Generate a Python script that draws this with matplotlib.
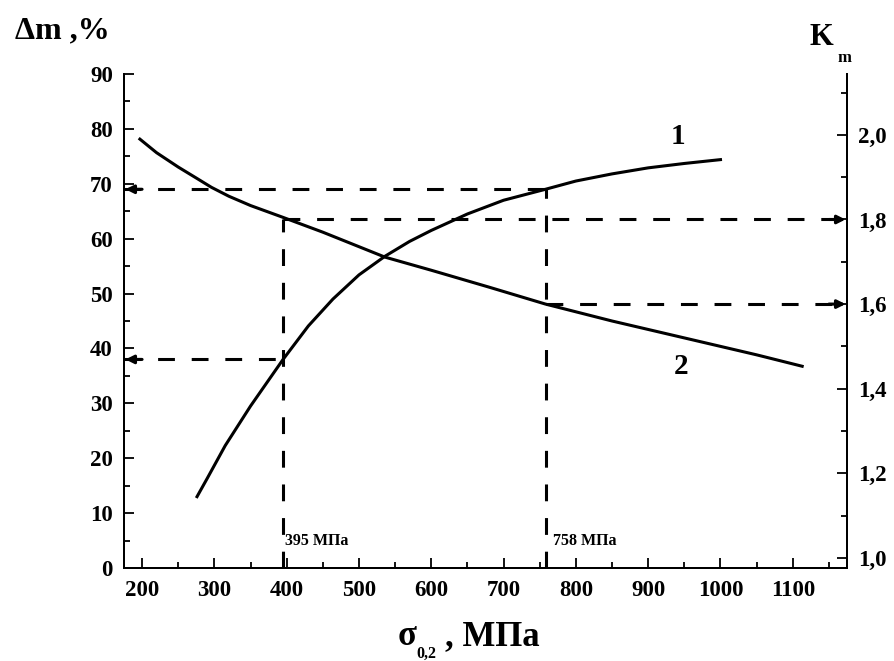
import numpy as np
import matplotlib
matplotlib.use('Agg')
import matplotlib.pyplot as plt
from matplotlib.ticker import MultipleLocator

plt.rcParams['font.family'] = ['Liberation Serif', 'DejaVu Serif']
plt.rcParams['font.weight'] = 'bold'

# Кривая 1: Δm, % (левая ось)
sigma_1 = [276, 290, 315, 350, 395, 430, 464, 500, 536, 570, 600, 650, 700, 758, 800, 850, 900, 950, 1000]
dm_1 = [13, 16.3, 22.3, 29.5, 38, 44.1, 49, 53.4, 56.8, 59.5, 61.5, 64.5, 67, 69, 70.5, 71.8, 72.9, 73.7, 74.4]

# Кривая 2: K_m (правая ось)
sigma_2 = [197, 220, 250, 275, 296, 320, 350, 395, 450, 536, 600, 680, 758, 850, 950, 1050, 1113]
km_2 = [1.99, 1.958, 1.924, 1.898, 1.876, 1.855, 1.833, 1.805, 1.77, 1.711, 1.68, 1.64, 1.60, 1.56, 1.52, 1.48, 1.453]

# Точки отсчёта
s_a, s_b = 395, 758
dm_a, dm_b = 38, 69
km_a, km_b = 1.8, 1.6

x_ticks = [200, 300, 400, 500, 600, 700, 800, 900, 1000, 1100]
y_ticks = [0, 10, 20, 30, 40, 50, 60, 70, 80, 90]
k_ticks = [1.0, 1.2, 1.4, 1.6, 1.8, 2.0]
k_labels = ['1,0', '1,2', '1,4', '1,6', '1,8', '2,0']

W, H = 895, 661
fig = plt.figure(figsize=(W / 100, H / 100), dpi=100)
ax = fig.add_axes([124 / W, 1 - 568 / H, (847 - 124) / W, (568 - 74) / H])
ax2 = ax.twinx()

xlim = (175, 1175)
klim = (0.976, 2.144)
ax.set_xlim(*xlim)
ax.set_ylim(0, 90)
ax2.set_ylim(*klim)

ax.plot(sigma_1, dm_1, color='black', lw=2.2)
ax2.plot(sigma_2, km_2, color='black', lw=2.2)

dash = dict(color='black', lw=2.2, dashes=(5.5, 5.5))
# слева: Δm
ax.plot([xlim[0], s_a], [dm_a, dm_a], **dash)
ax.plot([xlim[0], s_b], [dm_b, dm_b], **dash)
ax.plot([s_b, s_b], [0, dm_b], **dash)
# справа: K_m
ax2.plot([s_a, s_a], [klim[0], km_a], **dash)
ax2.plot([s_a, xlim[1]], [km_a, km_a], **dash)
ax2.plot([s_b, xlim[1]], [km_b, km_b], **dash)

arr = dict(arrowstyle='-|>', color='black', lw=2.2, mutation_scale=12, shrinkA=0, shrinkB=0)
for v in (dm_a, dm_b):
    ax.annotate('', xy=(xlim[0] + 2, v), xytext=(xlim[0] + 25, v), arrowprops=arr)
for v in (km_a, km_b):
    ax2.annotate('', xy=(xlim[1] - 2, v), xytext=(xlim[1] - 25, v), arrowprops=arr)

ax.text(s_a + 3, 5, '395 МПа', fontsize=11.5, fontweight='bold', va='center', ha='left')
ax.text(s_b + 10, 5, '758 МПа', fontsize=11.5, fontweight='bold', va='center', ha='left')
ax.text(941, 78.6, '1', fontsize=21, fontweight='bold', ha='center', va='center')
ax.text(946, 36.7, '2', fontsize=21, fontweight='bold', ha='center', va='center')

ax.set_xticks(x_ticks)
ax.set_yticks(y_ticks)
ax.xaxis.set_minor_locator(MultipleLocator(50))
ax.yaxis.set_minor_locator(MultipleLocator(5))
ax2.set_yticks(k_ticks)
ax2.set_yticklabels(k_labels)
ax2.yaxis.set_minor_locator(MultipleLocator(0.1))

for a in (ax, ax2):
    a.tick_params(which='major', direction='in', length=7, width=1.3, labelsize=16.5, pad=8)
    a.tick_params(which='minor', direction='in', length=4, width=1.3)
    a.spines['top'].set_visible(False)
    for s in a.spines.values():
        s.set_linewidth(1.4)
ax.tick_params(axis='x', pad=9)
for lab in ax.get_xticklabels() + ax.get_yticklabels() + ax2.get_yticklabels():
    lab.set_fontweight('bold')

def fx(px):
    return px / W

def fy(py):
    return 1 - py / H

fig.text(fx(15), fy(38), 'Δm ,%', fontsize=23, fontweight='bold', ha='left', va='baseline')
fig.text(fx(810), fy(45), 'K', fontsize=22, fontweight='bold', ha='left', va='baseline')
fig.text(fx(838), fy(62), 'm', fontsize=12, fontweight='bold', ha='left', va='baseline')
fig.text(fx(398), fy(645), 'σ', fontsize=25, fontweight='bold', ha='left', va='baseline')
fig.text(fx(416), fy(658), '0,2', fontsize=11.5, fontweight='bold', ha='left', va='baseline')
fig.text(fx(445), fy(645), ', МПа', fontsize=25, fontweight='bold', ha='left', va='baseline')

fig.savefig('out.png', dpi=100)
